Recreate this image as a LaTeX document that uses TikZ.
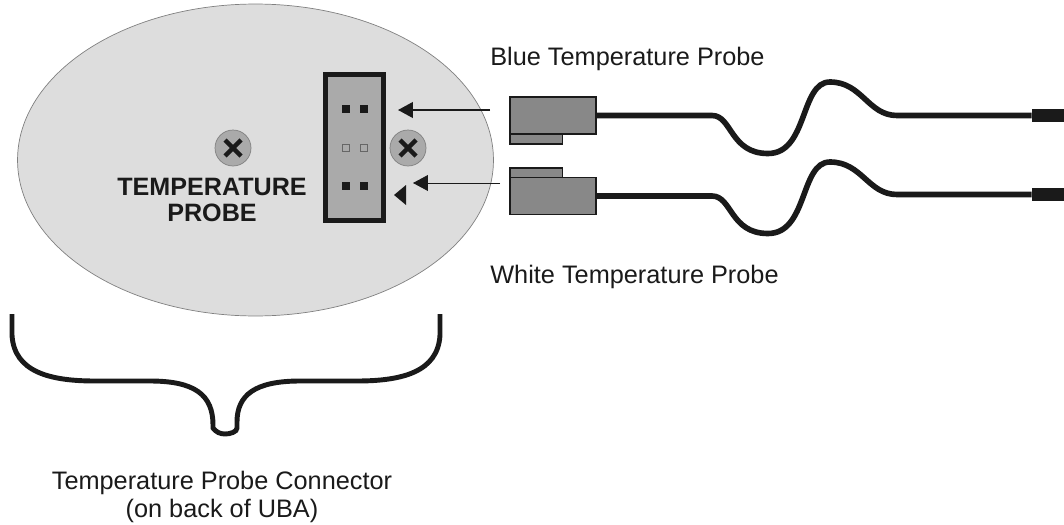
\documentclass[tikz,border=0pt]{standalone}
\usepackage{fontspec}
\setmainfont{Liberation Sans}
\usetikzlibrary{shapes.geometric,arrows.meta}

\definecolor{platte}{HTML}{DDDDDD}
\definecolor{leiste}{HTML}{AAAAAA}
\definecolor{stecker}{HTML}{888888}
\definecolor{fast}{HTML}{1A1A1A}

\begin{document}
\begin{tikzpicture}[x=0.02cm,y=-0.02cm,
        label/.style={font=\fontsize{14.4}{15.9}\selectfont,align=center,text=fast,inner sep=0pt},
        board/.style={draw=gray,thin,fill=platte,ellipse,inner sep=0pt,minimum width=9.52cm,minimum height=6.24cm},
        header/.style={draw=fast,line width=2.8pt,fill=leiste,inner sep=0pt,minimum width=1.16cm,minimum height=2.92cm},
        pin/.style={fill=fast,inner sep=0pt,minimum size=0.16cm},
        openpin/.style={draw=gray!80!black,fill=leiste,line width=0.6pt,inner sep=0pt,minimum size=0.14cm},
        screw/.style={circle,draw=gray,fill=leiste,inner sep=0pt,minimum size=0.72cm},
        cross/.style={fast,line width=2.6pt},
        plug/.style={draw=fast,line width=0.8pt,fill=stecker,inner sep=0pt,minimum width=1.72cm,minimum height=0.74cm},
        tab/.style={draw=fast,line width=0.8pt,fill=stecker,inner sep=0pt,minimum width=1.05cm,minimum height=0.2cm},
        cable/.style={fast,line width=3.2pt},
        cableend/.style={fill=fast,inner sep=0pt,minimum width=0.64cm,minimum height=0.25cm},
        pointer/.style={fast,-{Triangle[length=8.5pt,width=9pt]}},
    ]
    \useasboundingbox (0,0) rectangle (1064,524);

    % Platine
    \node[board] (board) at (255.5,160) {};
    \node[header] (header) at (354.5,147.5) {};

    % Kontakte
    \foreach \px [count=\i] in {346,364} {
        \node[pin] (toppin\i) at (\px,109) {};
        \node[openpin] (midpin\i) at (\px,148) {};
        \node[pin] (lowpin\i) at (\px,186) {};
    }

    % Schrauben
    \foreach \name/\px in {screwleft/233,screwright/408} {
        \node[screw] (\name) at (\px,148) {};
        \draw[cross,shift={(\name)}] (-8,-8) -- (8,8);
        \draw[cross,shift={(\name)}] (-8,8) -- (8,-8);
    }

    \node[font=\fontsize{14.3}{15.2}\selectfont\bfseries,align=center,text=fast,inner sep=0pt] (boardtext) at (212,200) {TEMPERATURE\\PROBE};

    % Stecker
    \node[plug] (blueplug) at (553,115.5) {};
    \node[tab] (bluetab) at (536.25,139) {};
    \node[tab] (whitetab) at (536.25,173) {};
    \node[plug] (whiteplug) at (553,196) {};

    % Kabel
    \node[cableend] (blueend) at (1048,115.5) {};
    \node[cableend] (whiteend) at (1048,194.5) {};
    \draw[cable] (blueplug.east) -- (712,115.5) .. controls (732,115.5) and (730,153.5) .. (768,153.5)
        .. controls (808,153.5) and (800,82) .. (830,82)
        .. controls (862,82) and (868,115.5) .. (897,115.5) -- (blueend.west);
    \draw[cable] (whiteplug.east) -- (712,196) .. controls (732,196) and (730,233.5) .. (768,233.5)
        .. controls (808,233.5) and (800,162) .. (830,162)
        .. controls (862,162) and (868,194.5) .. (897,194.5) -- (whiteend.west);

    % Pfeile
    \coordinate (bluefrom) at (490,110);
    \coordinate (blueto) at (398,110);
    \coordinate (whitefrom) at (500,183);
    \coordinate (whiteto) at (413,183);
    \draw[pointer,line width=0.9pt] (bluefrom) -- (blueto);
    \draw[pointer,line width=0.5pt] (whitefrom) -- (whiteto);
    \fill[fast] (394,195) -- (406,185) -- (406,205) -- cycle;

    % Klammer
    \coordinate (braceleft) at (12,314);
    \coordinate (braceright) at (440,314);
    \draw[fast,line width=2.8pt] (braceleft) -- (12,335) .. controls (14,372) and (50,381) .. (95,381) -- (150,381)
        .. controls (195,381) and (213,395) .. (213,425) -- (213,428)
        .. controls (216,432) and (220,434) .. (225,434)
        .. controls (230,434) and (237,432) .. (237,428) -- (237,422)
        .. controls (237,395) and (255,381) .. (300,381) -- (357,381)
        .. controls (402,381) and (438,372) .. (440,335) -- (braceright);

    % Beschriftung
    \node[label,anchor=base west] (bluetext) at (490,65) {Blue Temperature Probe};
    \node[label,anchor=base west] (whitetext) at (490,283) {White Temperature Probe};
    \node[label,anchor=base] (bracetext) at (222,517) {Temperature Probe Connector\\(on back of UBA)};
\end{tikzpicture}
\end{document}
